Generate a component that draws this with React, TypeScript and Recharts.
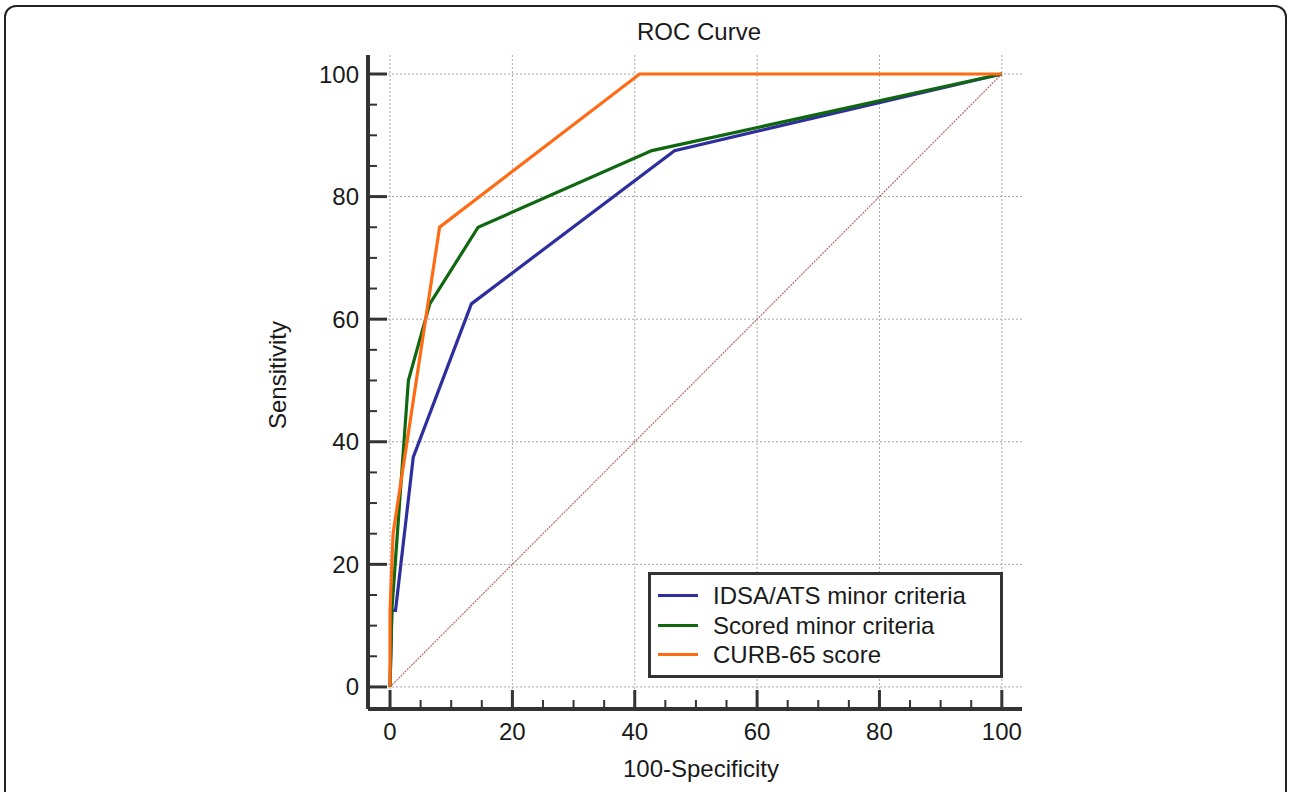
import React from 'react';
import { LineChart, Line, XAxis, YAxis, ReferenceLine } from 'recharts';

const FONT = '"Liberation Sans", Arial, Helvetica, sans-serif';

// Tick values (minor every 5, labelled every 20)
const tickValues = [0, 5, 10, 15, 20, 25, 30, 35, 40, 45, 50, 55, 60, 65, 70, 75, 80, 85, 90, 95, 100];
const gridValues = [0, 20, 40, 60, 80, 100];

// ROC curves: x = 100-Specificity, y = Sensitivity
const idsaX = [0, 0.3, 0.9, 3.8, 13.3, 46.5, 100];
const idsaY = [0, 12.5, 12.5, 37.5, 62.5, 87.5, 100];

const scoredX = [0, 0.3, 3, 6.5, 14.4, 42.8, 100];
const scoredY = [0, 12.5, 50, 62.5, 75, 87.5, 100];

const curbX = [0, 0, 0.5, 8.1, 40.8, 100];
const curbY = [0, 12.5, 25, 75, 100, 100];

const refX = [0, 100];
const refY = [0, 100];

const seriesNames = ['IDSA/ATS minor criteria', 'Scored minor criteria', 'CURB-65 score'];
const seriesColors = ['#2e2e9e', '#0f680f', '#ff6a14'];

const toPoints = (xs: number[], ys: number[]) => xs.map((x, i) => ({ x, y: ys[i] }));

const series = [
  { name: seriesNames[0], color: seriesColors[0], data: toPoints(idsaX, idsaY) },
  { name: seriesNames[1], color: seriesColors[1], data: toPoints(scoredX, scoredY) },
  { name: seriesNames[2], color: seriesColors[2], data: toPoints(curbX, curbY) },
];
const refData = toPoints(refX, refY);

const AXIS_COLOR = '#333';

const XTick = (props: any) => {
  const { x, y, payload } = props;
  const v = payload.value;
  const major = v % 20 === 0;
  return (
    <g>
      <line x1={x} x2={x} y1={y} y2={y - (major ? 19 : 9)} stroke={AXIS_COLOR} strokeWidth={major ? 3 : 2} />
      {major && (
        <text x={x} y={y + 31} textAnchor="middle" fontFamily={FONT} fontSize={24} fill="#1a1a1a">
          {v}
        </text>
      )}
    </g>
  );
};

const YTick = (props: any) => {
  const { x, y, payload } = props;
  const v = payload.value;
  const major = v % 20 === 0;
  return (
    <g>
      <line x1={x} x2={x + (major ? 19 : 9)} y1={y} y2={y} stroke={AXIS_COLOR} strokeWidth={major ? 3 : 2} />
      {major && (
        <text x={x - 9} y={y + 8.5} textAnchor="end" fontFamily={FONT} fontSize={24} fill="#1a1a1a">
          {v}
        </text>
      )}
    </g>
  );
};

const XLabel = (props: any) => {
  const vb = props.viewBox;
  return (
    <text x={vb.x + vb.width / 2 + 6} y={vb.y + 68} textAnchor="middle" fontFamily={FONT} fontSize={24} fill="#1a1a1a">
      100-Specificity
    </text>
  );
};

const YLabel = (props: any) => {
  const vb = props.viewBox;
  const cx = vb.x - 22;
  const cy = vb.y + vb.height / 2 - 7;
  return (
    <text x={cx} y={cy} transform={`rotate(-90, ${cx}, ${cy})`} textAnchor="middle" fontFamily={FONT} fontSize={24} fill="#1a1a1a">
      Sensitivity
    </text>
  );
};

export default function App() {
  return (
    <div style={{ position: 'absolute', left: 0, top: 0, width: 1290, height: 792, overflow: 'hidden', background: '#fff' }}>
      <div
        style={{
          position: 'absolute',
          left: 4,
          top: 5,
          width: 1283,
          height: 900,
          border: '2px solid #222',
          borderRadius: 12,
          boxSizing: 'border-box',
        }}
      />
      <div
        style={{
          position: 'absolute',
          left: 599,
          top: 20,
          width: 200,
          textAlign: 'center',
          fontFamily: FONT,
          fontSize: 24,
          lineHeight: '24px',
          color: '#1a1a1a',
        }}
      >
        ROC Curve
      </div>
      <div style={{ position: 'absolute', left: 0, top: 0 }}>
        <LineChart width={1290} height={792} margin={{ top: 55, right: 268, bottom: 53, left: 308 }}>
          <XAxis
            type="number"
            dataKey="x"
            domain={[-3.6, 103.3]}
            allowDataOverflow
            ticks={tickValues}
            interval={0}
            tickSize={0}
            tickMargin={0}
            height={30}
            tickLine={false}
            axisLine={{ stroke: AXIS_COLOR, strokeWidth: 4 }}
            tick={XTick}
            label={XLabel}
          />
          <YAxis
            type="number"
            dataKey="y"
            domain={[-3.6, 103.1]}
            allowDataOverflow
            ticks={tickValues}
            interval={0}
            tickSize={0}
            tickMargin={0}
            width={60}
            tickLine={false}
            axisLine={{ stroke: AXIS_COLOR, strokeWidth: 4 }}
            tick={YTick}
            label={YLabel}
          />
          {gridValues.map((v) => (
            <ReferenceLine key={'h' + v} y={v} stroke="#a8a8a8" strokeWidth={1} strokeDasharray="2 2" />
          ))}
          {gridValues.map((v) => (
            <ReferenceLine key={'v' + v} x={v} stroke="#a8a8a8" strokeWidth={1} strokeDasharray="2 2" />
          ))}
          <Line
            data={refData}
            dataKey="y"
            type="linear"
            stroke="#b46c6c"
            strokeWidth={1.2}
            strokeDasharray="2 1"
            dot={false}
            isAnimationActive={false}
            legendType="none"
          />
          {series.map((s) => (
            <Line
              key={s.name}
              name={s.name}
              data={s.data}
              dataKey="y"
              type="linear"
              stroke={s.color}
              strokeWidth={3.2}
              dot={false}
              isAnimationActive={false}
            />
          ))}
        </LineChart>
      </div>
      <div
        style={{
          position: 'absolute',
          left: 648,
          top: 572,
          width: 355,
          height: 106,
          border: '3px solid #333',
          background: '#fff',
          boxSizing: 'border-box',
          paddingTop: 6,
          paddingLeft: 7,
          fontFamily: FONT,
          fontSize: 24,
          color: '#1a1a1a',
        }}
      >
        {series.map((s) => (
          <div key={s.name} style={{ display: 'flex', alignItems: 'center', height: 29.5 }}>
            <div style={{ width: 40, height: 3, background: s.color, marginRight: 15 }} />
            <span style={{ lineHeight: '29.5px', whiteSpace: 'nowrap' }}>{s.name}</span>
          </div>
        ))}
      </div>
    </div>
  );
}
